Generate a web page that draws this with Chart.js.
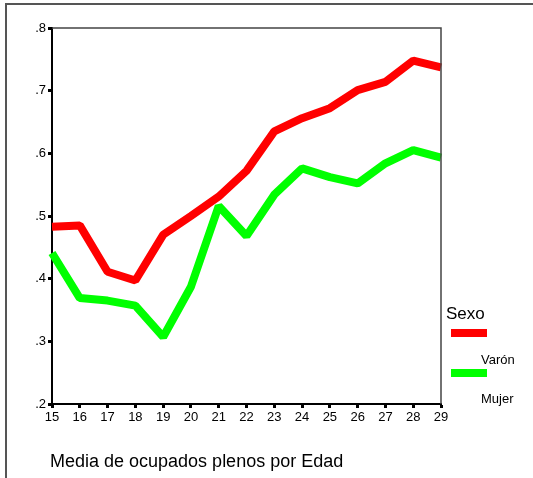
<!DOCTYPE html>
<html>
<head>
<meta charset="utf-8">
<script src="https://cdn.jsdelivr.net/npm/chart.js@4/dist/chart.umd.min.js"></script>
<style>
  html, body { margin: 0; padding: 0; background: #fff; }
  #wrap { width: 533px; height: 478px; }
</style>
</head>
<body>
<div id="wrap"><canvas id="chart" width="533" height="478"></canvas></div>
<script>
// Edad (15..29)
const ages = ['15', '16', '17', '18', '19', '20', '21', '22', '23', '24', '25', '26', '27', '28', '29'];
const varon = [0.483, 0.485, 0.411, 0.397, 0.470, 0.500, 0.531, 0.572, 0.635, 0.656, 0.672, 0.701, 0.714, 0.748, 0.737];
const mujer = [0.441, 0.369, 0.365, 0.357, 0.307, 0.387, 0.516, 0.468, 0.534, 0.576, 0.562, 0.552, 0.584, 0.605, 0.593];
const seriesNames = ['Varón', 'Mujer'];
const seriesColors = ['#ff0000', '#00ff00'];
const legendTitle = 'Sexo';
const chartTitle = 'Media de ocupados plenos por Edad';

const FONT = 'Arial, "Liberation Sans", sans-serif';

// frame, plot border, legend and bottom title
const decorPlugin = {
    id: 'decor',
    beforeDraw(chart) {
        const ctx = chart.ctx;
        ctx.save();
        ctx.fillStyle = '#fff';
        ctx.fillRect(0, 0, chart.width, chart.height);
        ctx.strokeStyle = '#555';
        ctx.lineWidth = 2;
        ctx.beginPath();
        ctx.moveTo(6, chart.height);
        ctx.lineTo(6, 4);
        ctx.lineTo(chart.width, 4);
        ctx.stroke();
        ctx.restore();
    },
    afterDraw(chart) {
        const ctx = chart.ctx;
        const a = chart.chartArea;
        ctx.save();
        // top + right edges of plot box
        ctx.lineWidth = 1.5;
        ctx.strokeStyle = '#444';
        ctx.beginPath();
        ctx.moveTo(a.left, a.top);
        ctx.lineTo(a.right, a.top);
        ctx.lineTo(a.right, a.bottom);
        ctx.stroke();

        // legend
        ctx.fillStyle = '#000';
        ctx.textBaseline = 'alphabetic';
        ctx.font = '17px ' + FONT;
        ctx.fillText(legendTitle, 446, 319);
        ctx.font = '13px ' + FONT;
        const swY = [329, 369];
        const lbY = [364, 403];
        seriesNames.forEach((name, i) => {
            ctx.fillStyle = seriesColors[i];
            ctx.fillRect(451, swY[i], 36, 8);
            ctx.fillStyle = '#000';
            ctx.fillText(name, 481, lbY[i]);
        });

        // title under the chart
        ctx.font = '18px ' + FONT;
        ctx.fillText(chartTitle, 50, 467);
        ctx.restore();
    }
};

new Chart(document.getElementById('chart').getContext('2d'), {
    type: 'line',
    data: {
        labels: ages,
        datasets: [
            { label: seriesNames[0], data: varon, borderColor: seriesColors[0], backgroundColor: seriesColors[0] },
            { label: seriesNames[1], data: mujer, borderColor: seriesColors[1], backgroundColor: seriesColors[1] }
        ].map(d => Object.assign(d, { borderWidth: 8, pointRadius: 0, tension: 0, fill: false, borderJoinStyle: 'bevel' }))
    },
    options: {
        responsive: false,
        animation: false,
        devicePixelRatio: 1,
        layout: { padding: { left: 0, top: 28, right: 92, bottom: 0 } },
        plugins: {
            legend: { display: false },
            tooltip: { enabled: false }
        },
        scales: {
            x: {
                type: 'category',
                offset: false,
                afterFit: s => { s.height = 74; },
                border: { display: true, color: '#000', width: 2 },
                grid: { drawOnChartArea: false, drawTicks: true, tickLength: 4, tickWidth: 3, color: '#000' },
                ticks: { color: '#000', font: { family: FONT, size: 13 }, padding: 2, maxRotation: 0, autoSkip: false }
            },
            y: {
                min: 0.2,
                max: 0.8,
                afterFit: s => { s.width = 52; },
                border: { display: true, color: '#000', width: 2 },
                grid: { drawOnChartArea: false, drawTicks: true, tickLength: 4, tickWidth: 3, color: '#000' },
                ticks: {
                    stepSize: 0.1,
                    color: '#000',
                    font: { family: FONT, size: 13 },
                    padding: 2,
                    callback: v => v.toFixed(1).replace(/^0/, '')
                }
            }
        }
    },
    plugins: [decorPlugin]
});
</script>
</body>
</html>
